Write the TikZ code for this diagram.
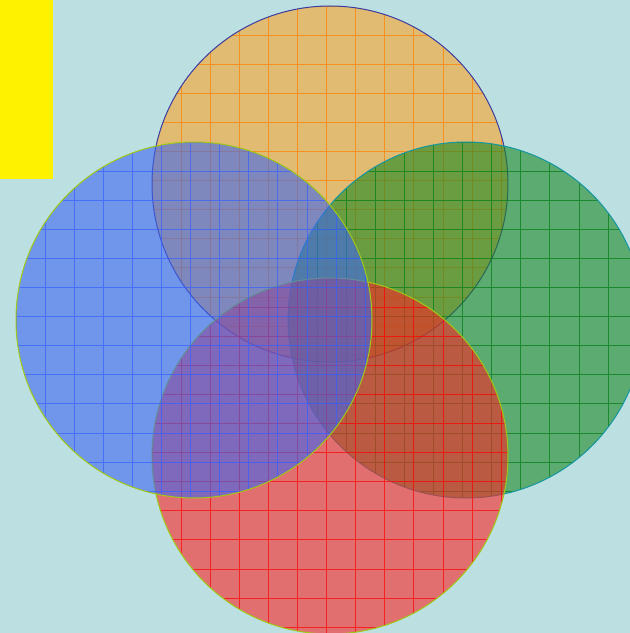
\documentclass[tikz,border=0pt]{standalone}
\usepackage{xcolor}
\usepackage{tikz}
\usetikzlibrary{calc}

\definecolor{hintergrund}{RGB}{188,224,226}
\definecolor{fuellorange}{RGB}{250,163,38}
\definecolor{fuellblau}{RGB}{60,102,240}
\definecolor{fuellgruen}{RGB}{28,136,36}
\definecolor{fuellrot}{RGB}{250,36,36}
\definecolor{gitterblau}{RGB}{55,95,255}
\definecolor{gittergruen}{RGB}{0,125,20}
\definecolor{randblau}{RGB}{60,60,160}
\definecolor{randgelb}{RGB}{160,200,20}
\definecolor{randtuerkis}{RGB}{20,150,160}

\begin{document}
\begin{tikzpicture}[x=1pt,y=1pt,
  flaeche/.style={fill opacity=0.6},
  gitter/.style={line width=0.9pt,opacity=0.7},
  rand/.style={line width=1pt}]
  % --- Hintergrund ---
  \fill[hintergrund] (0,0) rectangle (630,633);
  \useasboundingbox (0,0) rectangle (630,633);
  \fill[yellow] (0,454) rectangle (53,633);
  % --- Kreis oben (orange) ---
  \begin{scope}
    \coordinate (oben) at (330,449);
    \fill[fuellorange,flaeche] (oben) circle (178);
    \begin{scope}
      \clip (oben) circle (178);
      \draw[orange,gitter,shift={(152,627)}] (0,-360) grid[step=29.1pt] (360,0);
    \end{scope}
    \draw[randblau,rand] (oben) circle (178);
  \end{scope}
  % --- Kreis rechts (gruen) ---
  \begin{scope}
    \coordinate (rechts) at (466,313);
    \fill[fuellgruen,flaeche] (rechts) circle (178);
    \begin{scope}
      \clip (rechts) circle (178);
      \draw[gittergruen,gitter,shift={(288,491)}] (0,-360) grid[step=29.1pt] (360,0);
    \end{scope}
    \draw[randtuerkis,rand] (rechts) circle (178);
  \end{scope}
  % --- Kreis unten (rot) ---
  \begin{scope}
    \coordinate (unten) at (330,177);
    \fill[fuellrot,flaeche] (unten) circle (178);
    \begin{scope}
      \clip (unten) circle (178);
      \draw[red,gitter,shift={(152,355)}] (0,-360) grid[step=29.1pt] (360,0);
    \end{scope}
    \draw[randgelb,rand] (unten) circle (178);
  \end{scope}
  % --- Kreis links (blau) ---
  \begin{scope}
    \coordinate (links) at (194,313);
    \fill[fuellblau,flaeche] (links) circle (178);
    \begin{scope}
      \clip (links) circle (178);
      \draw[gitterblau,gitter,shift={(16,491)}] (0,-360) grid[step=29.1pt] (360,0);
    \end{scope}
    \draw[randgelb,rand] (links) circle (178);
  \end{scope}
\end{tikzpicture}
\end{document}
